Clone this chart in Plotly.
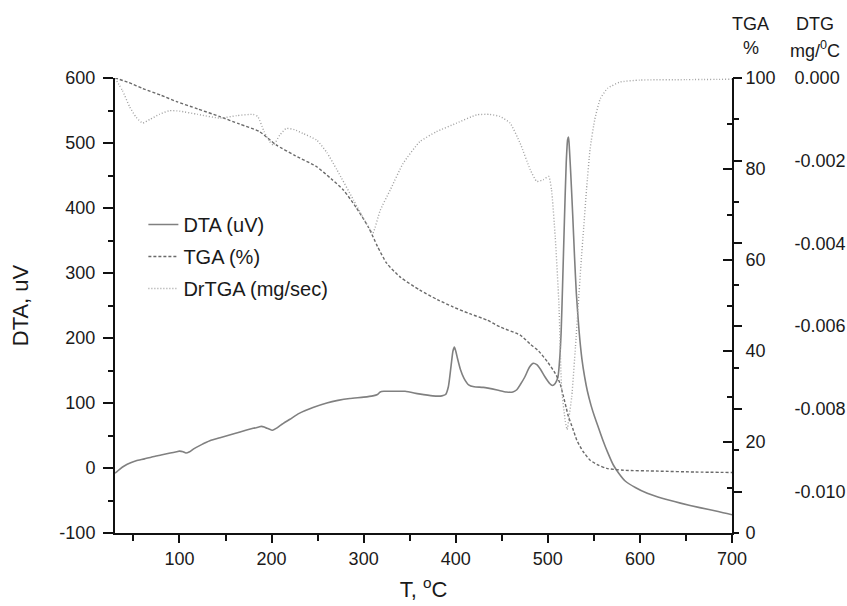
import plotly.graph_objects as go

# ---------------- data ----------------
temp_dta = [30, 35, 40, 47, 53, 62, 70, 80, 90, 97, 100, 104, 107, 111, 115, 124, 133,
            145, 160, 172, 180, 186, 189, 192, 195, 199, 201, 205, 210, 220, 230, 245,
            260, 272, 285, 300, 310, 315, 318, 322, 330, 345, 360, 375, 385, 389, 392,
            395, 397, 398.5, 400, 402, 405, 409, 414, 420, 430, 445, 455, 462, 466,
            470, 475, 480, 484, 488, 492, 497, 502, 505, 508, 511, 513, 514.5, 516,
            518, 520, 521.5, 522.5, 523.5, 525, 527, 529, 531, 534, 537, 540, 543,
            547, 551, 555, 560, 565, 571, 577, 584, 595, 608, 625, 644, 665, 685, 700]
dta_uv = [-8, -2, 3, 8, 11, 14, 17, 20, 23, 25, 26, 25, 23, 25, 29, 36, 42,
          47, 53, 58, 61, 63, 64, 63, 61, 59, 58, 61, 66, 75, 84, 93,
          100, 104, 107, 109, 111, 113, 117, 118, 118, 118, 114, 111, 111, 113, 125,
          158, 180, 186, 180, 168, 152, 138, 128, 125, 124, 120, 117, 117, 120,
          128, 140, 155, 161, 159, 152, 140, 130, 127, 130, 140, 170, 210, 280,
          380, 470, 505, 509, 490, 450, 390, 325, 268, 210, 168, 140, 118,
          96, 78, 62, 42, 24, 5, -8, -20, -30, -39, -47, -54, -61, -67, -72]

temp_tga = [30, 45, 60, 80, 97, 120, 144, 165, 187, 205, 225, 249, 265, 278, 292,
            305, 315, 325, 340, 361, 380, 397, 415, 434, 448, 470, 481, 490, 500,
            508, 513, 517, 520, 522.4, 527, 531.5, 538, 546, 555, 564, 582, 620,
            660, 700]
tga_pct = [100, 99, 97.7, 96.2, 94.8, 93.2, 91.5, 89.9, 88.2, 85.3, 83, 80.5, 77.8,
           75.4, 71.5, 67.3, 63, 59.3, 56.2, 53.4, 51.3, 49.7, 48.2, 46.8, 45.3,
           43.5, 41.5, 40, 37.5, 35.1, 33, 30, 27.5, 25.6, 23, 20.4, 18, 16, 14.9,
           14.2, 13.8, 13.6, 13.4, 13.3]

temp_dtg = [30, 38, 46, 53, 60, 68, 78, 89, 100, 120, 144, 162, 180, 185, 192, 198,
            202, 209, 216, 225, 234, 249, 260, 271, 289, 300, 307, 310, 318, 329,
            343, 361, 379, 401, 423, 437, 448, 459, 470, 481, 488, 495, 501, 504,
            508, 512, 515, 519, 521, 523, 526, 530, 533, 536, 539, 542, 546, 551,
            557, 565, 578, 600, 650, 700]
dtg_mg = [0.0, -0.0003, -0.0007, -0.00095, -0.00109, -0.0010, -0.00088, -0.00079,
          -0.0008, -0.00088, -0.00097, -0.00091, -0.00088, -0.00093, -0.0013,
          -0.00154, -0.00162, -0.00138, -0.00122, -0.00125, -0.00134, -0.0015,
          -0.0018, -0.00222, -0.00295, -0.0034, -0.00367, -0.00375, -0.0032,
          -0.0027, -0.00206, -0.00154, -0.0013, -0.00109, -0.00089, -0.00088,
          -0.00093, -0.00109, -0.00158, -0.00222, -0.0025, -0.00246, -0.00238,
          -0.0027, -0.00383, -0.00544, -0.0075, -0.0083, -0.0085, -0.0082, -0.0077,
          -0.0065, -0.0055, -0.0045, -0.0036, -0.0027, -0.0017, -0.0010, -0.0005,
          -0.00025, -0.0001, -0.00005, -0.00004, -0.00003]

x_tickvals = [100, 200, 300, 400, 500, 600, 700]
x_ticktext = ["100", "200", "300", "400", "500", "600", "700"]
dta_tickvals = [-100, 0, 100, 200, 300, 400, 500, 600]
dta_ticktext = ["-100", "0", "100", "200", "300", "400", "500", "600"]
tga_tickvals = [0, 20, 40, 60, 80, 100]
tga_ticktext = ["0", "20", "40", "60", "80", "100"]
dtg_tickvals = [-0.010, -0.008, -0.006, -0.004, -0.002, 0.0]
dtg_ticktext = ["-0.010", "-0.008", "-0.006", "-0.004", "-0.002", "0.000"]

series_names = ["DTA (uV)", "TGA (%)", "DrTGA (mg/sec)"]

# ---------------- figure ----------------
FONT = "Liberation Sans, Arial, sans-serif"
TXT = "#1a1a1a"

fig = go.Figure()
fig.add_trace(go.Scatter(x=temp_dta, y=dta_uv, mode="lines", name=series_names[0],
                         line=dict(color="#808080", width=1.6, shape="spline",
                                   smoothing=0.6),
                         yaxis="y", legendgroup="a"))
fig.add_trace(go.Scatter(x=temp_tga, y=tga_pct, mode="lines", name=series_names[1],
                         line=dict(color="#6a6a6a", width=1.4, dash="3px,2px",
                                   shape="spline", smoothing=0.6),
                         yaxis="y2", legendgroup="b"))
fig.add_trace(go.Scatter(x=temp_dtg, y=dtg_mg, mode="lines", name=series_names[2],
                         line=dict(color="#a0a0a0", width=1.4, dash="1px,2px",
                                   shape="spline", smoothing=0.5),
                         yaxis="y3", legendgroup="c"))

fig.update_layout(
    width=847, height=606,
    margin=dict(l=115, r=115, t=78, b=73, autoexpand=False),
    paper_bgcolor="white", plot_bgcolor="white",
    font=dict(family=FONT, size=18, color=TXT),
    showlegend=True,
    legend=dict(x=0.046, y=0.721, xanchor="left", yanchor="top",
                bgcolor="rgba(0,0,0,0)", font=dict(size=20, color=TXT),
                traceorder="grouped", tracegroupgap=3),
    xaxis=dict(range=[30, 700], showgrid=False, zeroline=False,
               showline=True, linecolor="#111", linewidth=2,
               tickmode="array", tickvals=x_tickvals, ticktext=x_ticktext,
               ticks="outside", ticklen=8, tickwidth=1.5, tickcolor="#111",
               minor=dict(dtick=50, tick0=0, ticks="outside", ticklen=6,
                          tickwidth=1.5, tickcolor="#111"),
               tickfont=dict(size=18, color=TXT),
               title=dict(text="T, <sup>o</sup>C", font=dict(size=22, color=TXT),
                          standoff=14)),
    yaxis=dict(range=[-100, 600], showgrid=False, zeroline=False,
               showline=True, linecolor="#111", linewidth=2,
               tickmode="array", tickvals=dta_tickvals, ticktext=dta_ticktext,
               ticks="outside", ticklen=10, tickwidth=1.5, tickcolor="#111",
               minor=dict(dtick=50, tick0=0, ticks="outside", ticklen=5,
                          tickwidth=1.5, tickcolor="#111"),
               tickfont=dict(size=18, color=TXT), ticklabelstandoff=4,
               title=dict(text="DTA, uV", font=dict(size=22, color=TXT),
                          standoff=25)),
    yaxis2=dict(range=[0, 100], overlaying="y", side="right", anchor="x",
                showgrid=False, zeroline=False,
                showline=True, linecolor="#111", linewidth=2,
                tickmode="array", tickvals=tga_tickvals, ticktext=tga_ticktext,
                ticks="inside", ticklen=9, tickwidth=1.5, tickcolor="#111",
                minor=dict(dtick=10, tick0=0, ticks="inside", ticklen=5,
                           tickwidth=1.5, tickcolor="#111"),
                tickfont=dict(size=18, color=TXT), ticklabelstandoff=8),
    yaxis3=dict(range=[-0.011, 0.0], overlaying="y", side="right",
                anchor="free", position=1.0,
                showgrid=False, zeroline=False, showline=False,
                tickmode="array", tickvals=dtg_tickvals, ticktext=dtg_ticktext,
                ticks="outside", ticklen=9, tickwidth=1.5, tickcolor="#111",
                minor=dict(dtick=0.001, tick0=0, ticks="outside", ticklen=6,
                           tickwidth=1.5, tickcolor="#111"),
                tickfont=dict(size=18, color=TXT), ticklabelstandoff=49),
)

# right-side axis headers
def px_to_paper_x(px):
    return (px - 115) / (847 - 230)

def py_to_paper_y(py):
    return (533 - py) / (606 - 151)

headers = [("TGA", 751, 24), ("%", 751, 48), ("DTG", 815, 24),
           ("mg/<sup>0</sup>C", 815, 49)]
for txt, hx, hy in headers:
    fig.add_annotation(text=txt, xref="paper", yref="paper",
                       x=px_to_paper_x(hx), y=py_to_paper_y(hy),
                       xanchor="center", yanchor="middle", showarrow=False,
                       font=dict(size=18, color=TXT, family=FONT))

fig.write_html("out.html", config={"displayModeBar": False},
               post_script="document.body.style.margin='0';document.body.style.overflow='hidden';")
